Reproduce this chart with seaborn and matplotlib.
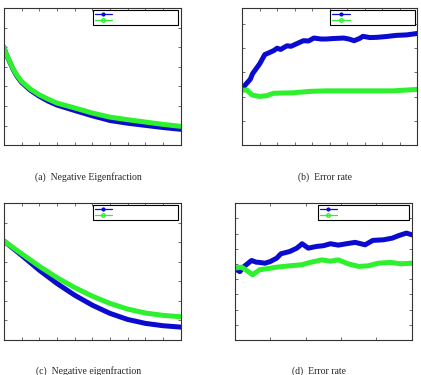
import numpy as np
import pandas as pd
import matplotlib
matplotlib.use('Agg')
import matplotlib.pyplot as plt
from matplotlib.lines import Line2D
import seaborn as sns

BLUE = '#0a0ad0'
GREEN = '#2ef02e'

# (a) Negative Eigenfraction
a_x = [0, 1, 2.5, 5, 7.5, 10, 15, 20, 25, 30, 40, 50, 60, 70, 80, 90, 100]
a_blue = [5.0, 4.7, 4.4, 3.9, 3.5, 3.2, 2.8, 2.5, 2.25, 2.05, 1.77, 1.5, 1.26, 1.12, 1.01, 0.9, 0.81]
a_green = [5.0, 4.7, 4.42, 3.93, 3.55, 3.25, 2.86, 2.57, 2.35, 2.15, 1.9, 1.64, 1.43, 1.3, 1.18, 1.06, 0.96]

# (b) Error rate
b_x_blue = [0, 2, 4.7, 6, 8.5, 10, 13, 15, 18, 20, 22, 25.6, 28, 31, 35, 38, 41, 45, 48, 52,
            58, 61, 64, 67, 69, 73, 77, 82, 88, 94, 100]
b_blue = [2.31, 2.5, 2.72, 2.95, 3.2, 3.35, 3.74, 3.8, 3.9, 4.0, 3.95, 4.1, 4.08, 4.18, 4.31, 4.3,
          4.42, 4.38, 4.38, 4.4, 4.42, 4.38, 4.31, 4.4, 4.49, 4.44, 4.45, 4.48, 4.53, 4.55, 4.61]
b_x_green = [0, 2.8, 5.7, 10, 14, 18, 29, 39, 48, 67, 86, 100]
b_green = [2.27, 2.27, 2.07, 2.01, 2.04, 2.14, 2.16, 2.22, 2.24, 2.24, 2.24, 2.3]

# (c) Negative eigenfraction
c_x = [0, 10, 20, 30, 40, 50, 60, 70, 80, 90, 100]
c_blue = [5.06, 4.33, 3.57, 2.89, 2.29, 1.78, 1.36, 1.05, 0.85, 0.73, 0.66]
c_green = [5.06, 4.41, 3.77, 3.19, 2.68, 2.24, 1.87, 1.58, 1.38, 1.26, 1.19]

# (d) Error rate
d_x_blue = [0, 2.8, 4.7, 9.4, 12, 14, 17, 20, 23.6, 26, 31, 35, 38, 41.5, 46, 50, 54, 58.5,
            63, 68, 73.6, 78, 84, 89, 92.5, 97, 100]
d_blue = [4.68, 4.5, 4.79, 5.23, 5.12, 5.1, 5.05, 5.16, 5.38, 5.67, 5.82, 6.04, 6.33, 6.04,
          6.15, 6.2, 6.33, 6.24, 6.33, 6.42, 6.26, 6.55, 6.59, 6.7, 6.86, 7.03, 6.92]
d_x_green = [0, 3.8, 7.5, 10, 14, 19, 23.6, 31, 38, 42.5, 49, 54, 58.5, 64, 70, 75.5, 81,
             88, 94, 100]
d_green = [4.73, 4.79, 4.5, 4.29, 4.62, 4.7, 4.79, 4.88, 4.95, 5.1, 5.27, 5.18, 5.27, 5.01,
           4.84, 4.88, 5.05, 5.1, 5.01, 5.05]

captions = ['(a)  Negative Eigenfraction', '(b)  Error rate',
            '(c)  Negative eigenfraction', '(d)  Error rate']

sns.set_style('ticks')
plt.rcParams['font.family'] = ['Liberation Serif', 'DejaVu Serif']

fig = plt.figure(figsize=(4.21, 3.75), dpi=100)

panels = [
    # axes rect, data, ylim, xticks, yticks, legend rect, caption pos
    ([0.0095, 0.613, 0.420, 0.365], (a_x, a_blue, a_x, a_green), (0, 7),
     np.arange(0, 101, 10), np.arange(0, 8, 1), (0.503, 0.883, 0.48, 0.102), (0.21, 0.528)),
    ([0.575, 0.613, 0.416, 0.365], (b_x_blue, b_blue, b_x_green, b_green), (0, 5.65),
     np.arange(0, 101, 10), np.arange(0, 6, 1), (0.503, 0.883, 0.486, 0.102), (0.773, 0.528)),
    ([0.0095, 0.0933, 0.420, 0.365], (c_x, c_blue, c_x, c_green), (0, 7),
     np.arange(0, 101, 10), np.arange(0, 8, 1), (0.503, 0.883, 0.48, 0.102), (0.21, 0.011)),
    ([0.558, 0.0933, 0.420, 0.365], (d_x_blue, d_blue, d_x_green, d_green), (0, 9),
     np.arange(0, 101, 20), np.arange(0, 10, 1), (0.469, 0.869, 0.514, 0.116), (0.758, 0.011)),
]

for (rect, (xb, yb, xg, yg), ylim, xt, yt, leg, cap), text in zip(panels, captions):
    ax = fig.add_axes(rect)
    df_b = pd.DataFrame({'x': xb, 'y': yb})
    df_g = pd.DataFrame({'x': xg, 'y': yg})
    sns.lineplot(data=df_b, x='x', y='y', ax=ax, color=BLUE, lw=3.6, legend=False)
    sns.lineplot(data=df_g, x='x', y='y', ax=ax, color=GREEN, lw=3.6, legend=False)
    ax.set_xlim(0, 100)
    ax.set_ylim(*ylim)
    ax.set_xticks(xt)
    ax.set_yticks(yt)
    ax.set_xticklabels([])
    ax.set_yticklabels([])
    ax.set_xlabel('')
    ax.set_ylabel('')
    ax.tick_params(direction='in', length=2.5, width=0.6, top=True, right=True, color='#555555')
    for s in ax.spines.values():
        s.set_linewidth(0.8)
        s.set_color('#333333')

    handles = [Line2D([], [], color=BLUE, lw=0.9, marker='.', markersize=4),
               Line2D([], [], color=GREEN, lw=0.9, marker='o', markersize=2.5,
                      markerfacecolor='none')]
    lg = ax.legend(handles, ['', ''], loc='upper left', bbox_to_anchor=leg, mode='expand',
                   fontsize=4, handlelength=3.2, borderpad=0.3, labelspacing=0.25,
                   borderaxespad=0, fancybox=False, framealpha=1, edgecolor='black')
    lg.get_frame().set_linewidth(0.8)

    fig.text(cap[0], cap[1], text, ha='center', va='center', fontsize=7)

plt.savefig('out.png', dpi=100)
